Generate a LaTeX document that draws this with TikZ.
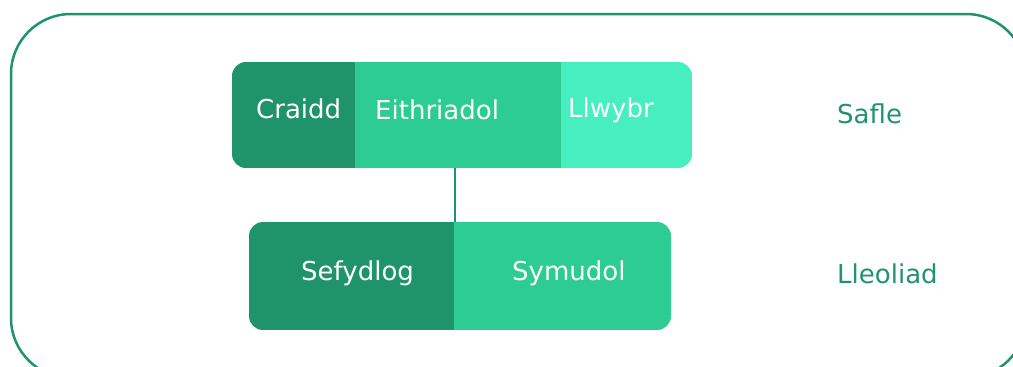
\documentclass[tikz,border=0pt]{standalone}
\usepackage{fontspec}
\setmainfont{DejaVu Sans}
\definecolor{dkg}{HTML}{1F946A}
\definecolor{mdg}{HTML}{2CCC93}
\definecolor{ltg}{HTML}{47EEC0}
\tikzset{
  seg/.style={draw=none, inner sep=0pt, outer sep=0pt, anchor=north west},
  wtxt/.style={text=white, font=\fontsize{26}{30}\selectfont, inner sep=0pt, anchor=base west},
  gtxt/.style={text=dkg, font=\fontsize{26}{30}\selectfont, inner sep=0pt, anchor=base west},
}
\begin{document}
\begin{tikzpicture}[x=1pt,y=-1pt]
\useasboundingbox (0,0) rectangle (1013,367);
% outer frame
\draw[dkg, line width=2.5pt, rounded corners=60pt] (11,14) rectangle (1026,378);
% top bar
\begin{scope}
\clip[rounded corners=14pt] (232,62) rectangle (692,168);
\node[seg, fill=dkg, minimum width=124pt, minimum height=106pt] (craidd) at (232,62) {};
\node[seg, fill=mdg, minimum width=207pt, minimum height=106pt] (eith) at (355,62) {};
\node[seg, fill=ltg, minimum width=132pt, minimum height=106pt] (llwy) at (561,62) {};
\end{scope}
% bottom bar
\begin{scope}
\clip[rounded corners=14pt] (249,222) rectangle (671,330);
\node[seg, fill=dkg, minimum width=206pt, minimum height=108pt] (sef) at (249,222) {};
\node[seg, fill=mdg, minimum width=218pt, minimum height=108pt] (sym) at (454,222) {};
\end{scope}
% connector
\draw[dkg, line width=2pt] (sef.north east) -- (sef.north east |- eith.south);
% texts
\node[wtxt] (tcraidd) at (256,118) {Craidd};
\node[wtxt] (teith) at (375,119) {Eithriadol};
\node[wtxt] (tllwy) at (568,117) {Llwybr};
\node[wtxt] (tsef) at (301,280) {Sefydlog};
\node[wtxt] (tsym) at (512,280) {Symudol};
\node[gtxt] (safle) at (837,123) {Safle};
\node[gtxt] (lleol) at (837,283) {Lleoliad};
\end{tikzpicture}
\end{document}
